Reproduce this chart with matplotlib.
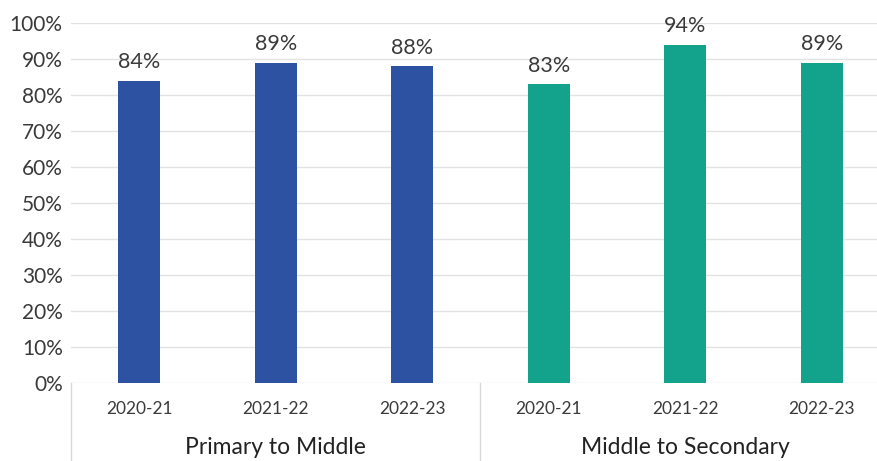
import matplotlib.pyplot as plt
import numpy as np

plt.rcParams['font.family'] = ['Lato', 'DejaVu Sans']

# --- data ---
groups = ["Primary to Middle", "Middle to Secondary"]
years = ["2020-21", "2021-22", "2022-23"]
primary_to_middle = [84, 89, 88]
middle_to_secondary = [83, 94, 89]
colors = ["#2E52A2", "#13A38D"]

fig = plt.figure(figsize=(8.77, 4.61), dpi=100)
ax = fig.add_axes([71 / 877, 78 / 461, 819 / 877, 360 / 461])

values = primary_to_middle + middle_to_secondary
x = np.arange(len(values))
bar_colors = [colors[0]] * len(years) + [colors[1]] * len(years)
bars = ax.bar(x, values, width=0.31, color=bar_colors, zorder=3)

for b, v in zip(bars, values):
    ax.annotate(f"{v}%", (b.get_x() + b.get_width() / 2, v),
                xytext=(0, 6), textcoords="offset points",
                ha="center", va="bottom", fontsize=15.5, color="#3a3a3a")

ax.set_xlim(-0.5, len(values) - 0.5)
ax.set_ylim(0, 100)
ax.set_yticks(range(0, 101, 10))
ax.set_yticklabels([f"{t}%" for t in range(0, 101, 10)], fontsize=15, color="#3a3a3a")
ax.yaxis.grid(True, color="#e2e2e2", linewidth=1, zorder=0)
ax.tick_params(axis="y", length=0, pad=6)

ax.set_xticks(x)
ax.set_xticklabels(years * 2, fontsize=12.5, color="#3a3a3a")
ax.tick_params(axis="x", length=0, pad=13)

for s in ax.spines.values():
    s.set_visible(False)

# group labels and dividers below the axis
for i, g in enumerate(groups):
    center = i * len(years) + (len(years) - 1) / 2
    ax.text(center, -0.178, g, transform=ax.get_xaxis_transform(),
            ha="center", va="center", fontsize=16.5, color="#222222")
for pos in [-0.5, len(years) - 0.5]:
    ax.plot([pos, pos], [0, -0.22], transform=ax.get_xaxis_transform(),
            color="#d8d8d8", linewidth=1, clip_on=False)

fig.savefig("out.png", dpi=100)
